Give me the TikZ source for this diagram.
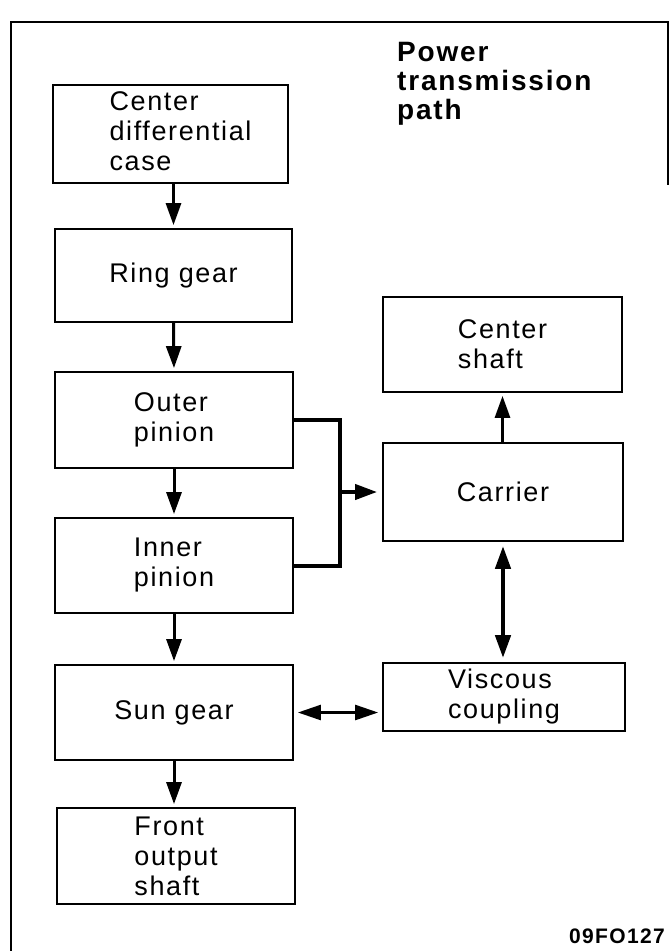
\documentclass[tikz,border=0pt]{standalone}
\usepackage{fontspec}
\setmainfont{Liberation Sans}
\newfontfamily\boxfont[LetterSpace=6]{Liberation Sans}
\newfontfamily\titlefont[LetterSpace=6.5]{Liberation Sans}
\usetikzlibrary{arrows.meta}
\tikzset{
  blk/.style={draw=black, line width=1.8pt, rectangle, inner sep=0pt,
    font=\boxfont\fontsize{27}{30}\selectfont, align=left},
  conn/.style={line width=3pt, -{Triangle[length=22pt,width=15pt]}, shorten >=3pt},
  biconn/.style={{Triangle[length=23pt,width=15pt]}-{Triangle[length=23pt,width=15pt]}, shorten >=4pt, shorten <=4pt},
}
\begin{document}
\begin{tikzpicture}[x=1pt,y=-1pt]
\useasboundingbox (0,0) rectangle (670,951);
\fill[white] (0,0) rectangle (670,951);
% frame
\draw[line width=2.5pt] (11,951) -- (11,22) -- (668,22) -- (668,185);
% title
\node[anchor=north west, inner sep=0pt, align=left,
  font=\titlefont\bfseries\fontsize{28}{29}\selectfont] (title) at (397,42)
  {Power\\transmission\\path};
% boxes
\node[blk, minimum width=235pt, minimum height=98pt] (case) at (170.5,134)
  {\hspace*{20pt}\begin{tabular}{@{}l@{}}Center\\differential\\case\end{tabular}};
\node[blk, minimum width=237pt, minimum height=93pt] (ring) at (173.5,275.5) {Ring gear};
\node[blk, minimum width=238pt, minimum height=96pt] (outer) at (174,420) {Outer\\pinion};
\node[blk, minimum width=238pt, minimum height=95pt] (inner) at (174,565.5) {Inner\\pinion};
\node[blk, minimum width=238pt, minimum height=95pt] (sun) at (174,712.5) {Sun gear};
\node[blk, minimum width=238pt, minimum height=96pt] (front) at (176,856) {Front\\output\\shaft};
\node[blk, minimum width=239pt, minimum height=95pt] (cshaft) at (502.5,344.5) {Center\\shaft};
\node[blk, minimum width=240pt, minimum height=98pt] (carrier) at (503,492) {Carrier};
\node[blk, minimum width=242pt, minimum height=68pt] (visc) at (504,697) {Viscous\\coupling};
% connectors
\draw[conn] (case.south -| ring.north) -- (ring.north);
\draw[conn] (ring.south) -- (outer.north);
\draw[conn] (outer.south) -- (inner.north);
\draw[conn] (inner.south) -- (sun.north);
\draw[conn] (sun.south -| front.north) ++(-2,0) coordinate (sfa) (sfa) -- (sfa |- front.north);
\draw[conn] (carrier.north -| cshaft.south) -- (cshaft.south);
\coordinate (bus) at (340,492);
\draw[line width=4pt, line join=miter] (outer.east) -- (outer.east -| bus) -- (inner.east -| bus) -- (inner.east);
\draw[conn, line width=4pt, shorten >=5pt] (bus) -- (carrier.west);
\draw[biconn, line width=4.5pt] (carrier.south) -- (carrier.south |- visc.north);
\draw[biconn, line width=2.5pt] (sun.east) -- (sun.east -| visc.west);
% figure code
\node[anchor=base east, inner sep=0pt, font=\titlefont\bfseries\fontsize{21}{22}\selectfont] (code) at (665,943) {09FO127};
\end{tikzpicture}
\end{document}
